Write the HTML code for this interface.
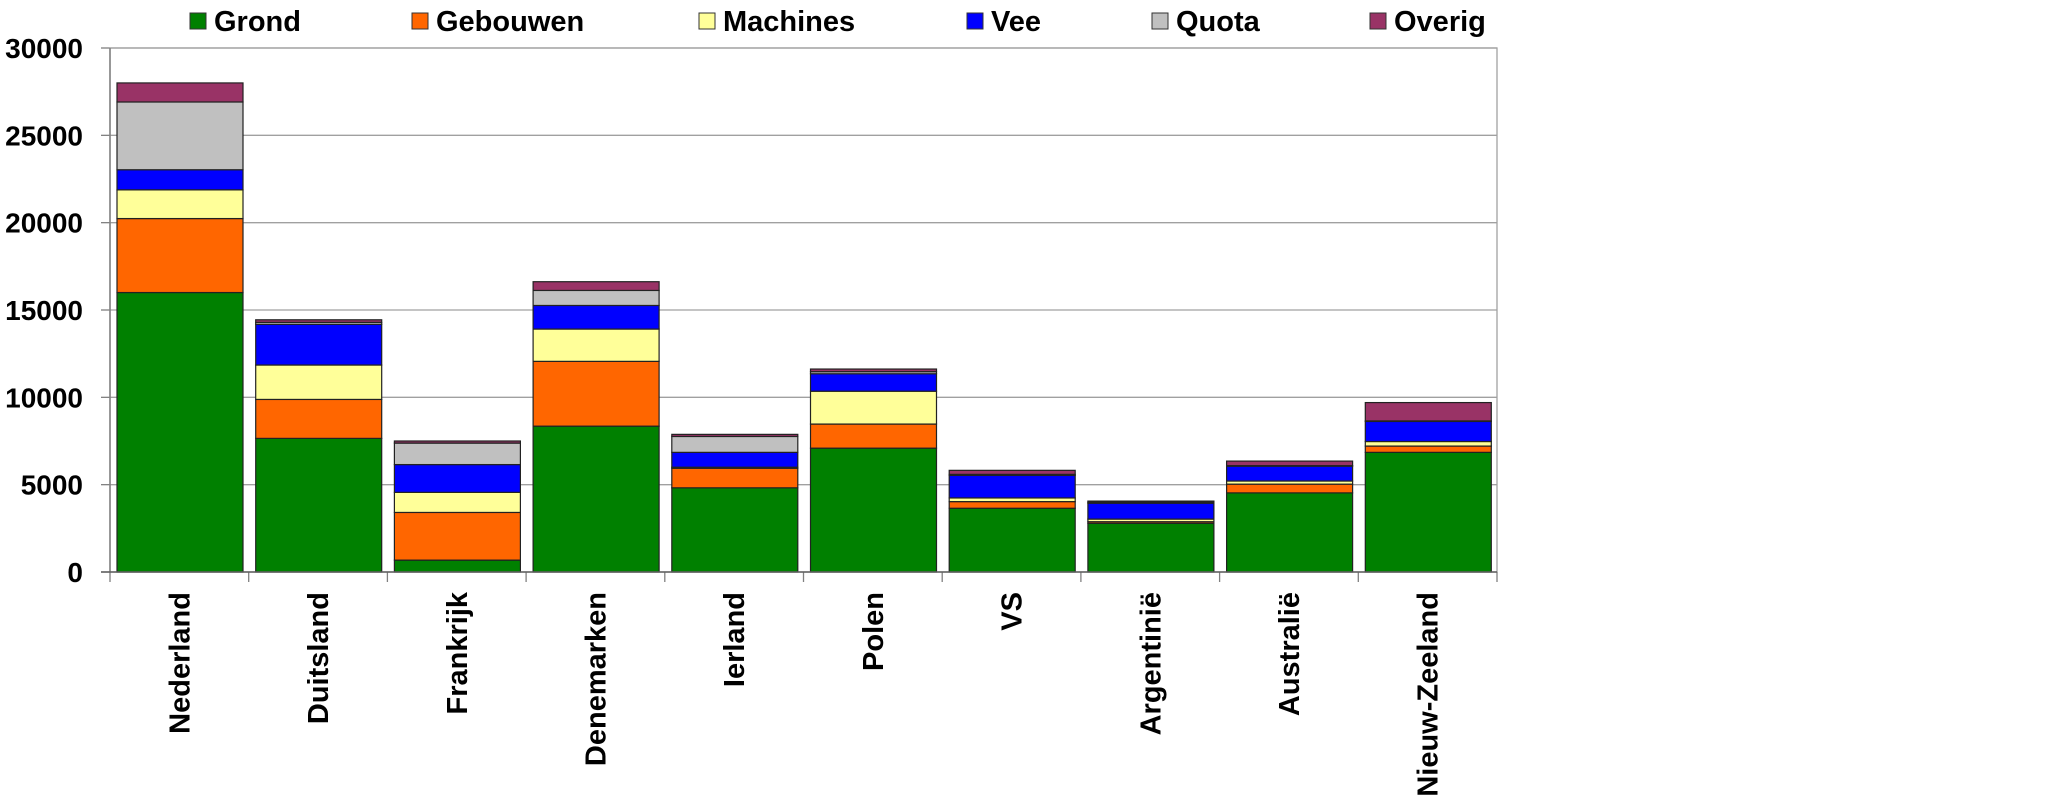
<!DOCTYPE html>
<html><head><meta charset="utf-8"><style>html,body{margin:0;padding:0;background:#fff}svg{display:block}text{font-family:"Liberation Sans",Arial,sans-serif;font-weight:bold;fill:#000}</style></head>
<body>
<svg width="2049" height="805" xmlns="http://www.w3.org/2000/svg" id="c"></svg>
<script>
const svg=document.getElementById('c');
const X0=110,X1=1497,Y0=572,Y1=48;
const cols=['#008000','#ff6600','#ffff99','#0000ff','#c0c0c0','#993366'];
const names=['Grond','Gebouwen','Machines','Vee','Quota','Overig'];
const data=[
['Nederland',[16000,20235,21880,23030,26910,28000]],
['Duitsland',[7650,9880,11850,14180,14290,14440]],
['Frankrijk',[680,3410,4560,6150,7380,7500]],
['Denemarken',[8350,12060,13910,15260,16120,16620]],
['Ierland',[4820,5940,6000,6850,7760,7880]],
['Polen',[7090,8470,10350,11350,11470,11620]],
['VS',[3650,4030,4240,5530,5590,5820]],
['Argentinië',[2790,2880,3030,3940,4000,4060]],
['Australië',[4530,5030,5210,6060,6090,6350]],
['Nieuw-Zeeland',[6850,7210,7470,8620,8650,9700]]];
let h='';
const y=v=>Y0-(Y0-Y1)*v/30000;
for(let i=0;i<=6;i++){const yy=y(i*5000);
 if(i>0)h+=`<line x1="${X0}" x2="${X1}" y1="${yy}" y2="${yy}" stroke="#a0a0a0" stroke-width="1.3"/>`;
 h+=`<line x1="101" x2="${X0}" y1="${yy}" y2="${yy}" stroke="#808080" stroke-width="1.3"/>`;
 h+=`<text x="83" y="${yy+10}" font-size="28" text-anchor="end">${i*5000}</text>`;}
h+=`<rect x="${X0}" y="${Y1}" width="${X1-X0}" height="${Y0-Y1}" fill="none" stroke="#a0a0a0" stroke-width="1.3"/>`;
h+=`<line x1="${X0}" x2="${X0}" y1="${Y1}" y2="${Y0}" stroke="#808080" stroke-width="1.5"/>`;
const cw=(X1-X0)/10;
data.forEach((d,i)=>{const bx=X0+i*cw+7,bw=126;let prev=0;
 d[1].forEach((v,k)=>{h+=`<rect x="${bx}" y="${y(v)}" width="${bw}" height="${y(prev)-y(v)}" fill="${cols[k]}" stroke="#222" stroke-width="1.2"/>`;prev=v;});
 const cx=X0+i*cw+cw/2;
 h+=`<text transform="translate(${cx+10},592) rotate(-90)" font-size="29" text-anchor="end">${d[0]}</text>`;});
for(let i=0;i<=10;i++){const xx=X0+i*cw;h+=`<line x1="${xx}" x2="${xx}" y1="${Y0}" y2="582" stroke="#808080" stroke-width="1.3"/>`;}
h+=`<line x1="101" x2="${X1}" y1="${Y0}" y2="${Y0}" stroke="#606060" stroke-width="1.5"/>`;
const lx=[190,412,699,967,1152,1370];
names.forEach((n,k)=>{h+=`<rect x="${lx[k]}" y="13" width="16" height="16" fill="${cols[k]}" stroke="#333" stroke-width="1"/><text x="${lx[k]+24}" y="31" font-size="29">${n}</text>`;});
svg.innerHTML=h;
</script>
</body></html>
